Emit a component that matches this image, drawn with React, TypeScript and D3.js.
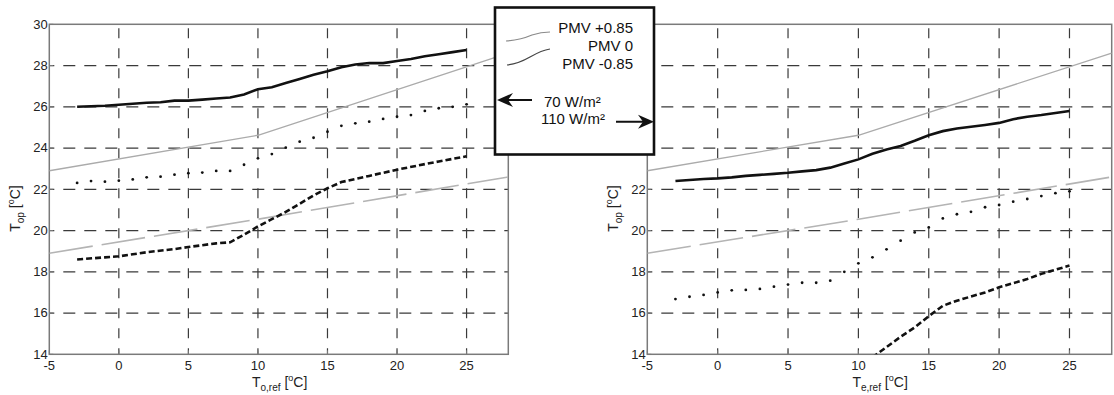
import React from "react";
import * as d3 from "d3";

// ---------- data ----------
const xTicks = [-5, 0, 5, 10, 15, 20, 25];
const yTicks = [14, 16, 18, 20, 22, 24, 26, 28, 30];
const gridX = [0, 5, 10, 15, 20, 25];
const gridY = [16, 18, 20, 22, 24, 26, 28];

// comfort band (same on both panels)
const comfortX = [-5, 10, 28];
const pmvUpper = [22.9, 24.62, 28.6];
const pmvLower = [18.9, 20.55, 22.6];

// left panel: 70 W/m2
const leftSolid: [number, number][] = [
  [-3, 26.0], [-1, 26.05], [0, 26.1], [1, 26.15], [2, 26.2], [3, 26.22], [4, 26.3], [5, 26.3],
  [6, 26.35], [7, 26.4], [8, 26.45], [9, 26.6], [10, 26.85], [11, 26.95], [12, 27.15],
  [13, 27.35], [14, 27.55], [15, 27.72], [16, 27.92], [17, 28.05], [18, 28.12], [19, 28.12],
  [20, 28.22], [21, 28.32], [22, 28.45], [23, 28.55], [24, 28.65], [25, 28.75],
];
const leftDotted: [number, number][] = [
  [-3, 22.31], [-2, 22.4], [-1, 22.37], [0, 22.42], [1, 22.48], [2, 22.58], [3, 22.61], [4, 22.71],
  [5, 22.78], [6, 22.81], [7, 22.89], [8, 22.89], [9, 23.19], [10, 23.5], [11, 23.71],
  [12, 24.02], [13, 24.31], [14, 24.5], [15, 24.79], [16, 25.08], [17, 25.2], [18, 25.28],
  [19, 25.41], [20, 25.52], [21, 25.6], [22, 25.8], [23, 25.93], [24, 26.0], [25, 26.12],
];
const leftDashed: [number, number][] = [
  [-3, 18.6], [-1, 18.7], [0, 18.75], [2, 18.95], [4, 19.1], [5, 19.2], [7, 19.38], [8, 19.43],
  [9, 19.8], [10, 20.2], [11, 20.55], [12, 20.9], [13, 21.3], [14, 21.7], [15, 22.05],
  [16, 22.35], [18, 22.65], [20, 22.95], [22, 23.22], [23, 23.35], [25, 23.6],
];

// right panel: 110 W/m2
const rightSolid: [number, number][] = [
  [-3, 22.4], [-1, 22.5], [0, 22.53], [1, 22.58], [2, 22.65], [3, 22.7], [4, 22.75], [5, 22.8],
  [6, 22.87], [7, 22.93], [8, 23.05], [9, 23.25], [10, 23.45], [11, 23.72], [12, 23.93],
  [13, 24.1], [14, 24.35], [15, 24.62], [16, 24.82], [17, 24.95], [18, 25.03], [19, 25.12],
  [20, 25.22], [21, 25.4], [22, 25.52], [23, 25.6], [24, 25.7], [25, 25.8],
];
const rightDotted: [number, number][] = [
  [-3, 16.68], [-2, 16.79], [-1, 16.88], [0, 17.0], [1, 17.1], [2, 17.12], [3, 17.17], [4, 17.28],
  [5, 17.38], [6, 17.47], [7, 17.47], [8, 17.57], [9, 18.0], [10, 18.41], [11, 18.7],
  [12, 19.09], [13, 19.51], [14, 19.91], [15, 20.15], [16, 20.59], [17, 20.79], [18, 20.91],
  [19, 21.13], [20, 21.24], [21, 21.4], [22, 21.53], [23, 21.67], [24, 21.81], [25, 21.9],
];
const rightDashed: [number, number][] = [
  [11, 13.85], [12, 14.35], [13, 14.85], [14, 15.3], [15, 15.85], [16, 16.35], [17, 16.6],
  [18, 16.8], [19, 17.0], [20, 17.25], [21, 17.45], [22, 17.65], [23, 17.9], [24, 18.1], [25, 18.3],
];

const legendLabels = ["PMV +0.85", "PMV 0", "PMV -0.85"];
const loadLabels = ["70 W/m²", "110 W/m²"];

// ---------- layout ----------
const W = 1114;
const H = 395;
const FONT = "'Liberation Sans', Arial, Helvetica, sans-serif";
const y = d3.scaleLinear().domain([14, 30]).range([354.3, 24.3]);

type PanelProps = {
  id: string;
  x0: number;
  x1: number;
  solid: [number, number][];
  dotted: [number, number][];
  dashed: [number, number][];
  xSub: string;
};

function Panel({ id, x0, x1, solid, dotted, dashed, xSub }: PanelProps) {
  const x = d3.scaleLinear().domain([-5, 28]).range([x0, x1]);
  const line = d3
    .line<[number, number]>()
    .x((d) => x(d[0]))
    .y((d) => y(d[1]));
  const comfortU: [number, number][] = comfortX.map((c, i) => [c, pmvUpper[i]]);
  const comfortL: [number, number][] = comfortX.map((c, i) => [c, pmvLower[i]]);
  const top = y(30);
  const bot = y(14);
  const grid = "#3a3a3a";
  return (
    <g>
      <defs>
        <clipPath id={id}>
          <rect x={x0} y={top} width={x1 - x0} height={bot - top} />
        </clipPath>
      </defs>
      {/* grid */}
      {gridX.map((v) => (
        <line key={"gx" + v} x1={x(v)} x2={x(v)} y1={top} y2={bot} stroke={grid}
          strokeWidth={1.2} strokeDasharray="10,10" strokeDashoffset={-4} />
      ))}
      {gridY.map((v) => (
        <line key={"gy" + v} x1={x0} x2={x1} y1={y(v)} y2={y(v)} stroke={grid}
          strokeWidth={1.2} strokeDasharray="12,9" strokeDashoffset={-14} />
      ))}
      {/* box */}
      <rect x={x0} y={top} width={x1 - x0} height={bot - top} fill="none" stroke="#7a7a7a" strokeWidth={1.5} />
      {/* ticks */}
      {xTicks.map((v) => (
        <g key={"xt" + v}>
          <line x1={x(v)} x2={x(v)} y1={bot} y2={bot - 4} stroke="#7a7a7a" />
          <text x={x(v)} y={369.5} textAnchor="middle" fontSize={13} fontFamily={FONT} fill="#222">
            {v}
          </text>
        </g>
      ))}
      {yTicks.map((v) => (
        <g key={"yt" + v}>
          <line x1={x0} x2={x0 + 4} y1={y(v)} y2={y(v)} stroke="#7a7a7a" />
          <text x={x0 - 1.5} y={y(v) + 4.3} textAnchor="end" fontSize={13} fontFamily={FONT} fill="#222">
            {v}
          </text>
        </g>
      ))}
      <g clipPath={`url(#${id})`}>
        <path d={line(comfortU) || ""} fill="none" stroke="#ababab" strokeWidth={1.3} />
        <path d={line(comfortL) || ""} fill="none" stroke="#b4b4b4" strokeWidth={1.6} strokeDasharray="44,9" />
        <path d={line(solid) || ""} fill="none" stroke="#111" strokeWidth={2.6} />
        <path d={line(dashed) || ""} fill="none" stroke="#111" strokeWidth={2.6} strokeDasharray="6,3" />
        {dotted.map((d, i) => (
          <circle key={"dt" + i} cx={x(d[0])} cy={y(d[1])} r={1.4} fill="#111" />
        ))}
      </g>
      {/* axis labels */}
      <text x={x(10) - 6} y={387} fontSize={14} fontFamily={FONT} fill="#222">
        T<tspan fontSize={10} dy={4}>{xSub}</tspan>
        <tspan dy={-4}> [</tspan>
        <tspan fontSize={9} dy={-6}>o</tspan>
        <tspan dy={6}>C]</tspan>
      </text>
      <text transform={`translate(${x0 - 29.5},${y(21.2) + 26}) rotate(-90)`} fontSize={14} fontFamily={FONT} fill="#222">
        T<tspan fontSize={10} dy={4}>op</tspan>
        <tspan dy={-4}> [</tspan>
        <tspan fontSize={9} dy={-6}>o</tspan>
        <tspan dy={6}>C]</tspan>
      </text>
    </g>
  );
}

export default function App() {
  const lx0 = 495;
  const lx1 = 654;
  const ly0 = 7.5;
  const ly1 = 154.5;
  const textX = 633;
  return (
    <svg width={W} height={H} style={{ position: "absolute", left: 0, top: 0, background: "#fff" }}>
      <rect width={W} height={H} fill="#fff" />
      <Panel id="clipL" x0={49.3} x1={508.3} solid={leftSolid} dotted={leftDotted} dashed={leftDashed} xSub="o,ref" />
      <Panel id="clipR" x0={647.3} x1={1111.7} solid={rightSolid} dotted={rightDotted} dashed={rightDashed} xSub="e,ref" />
      {/* legend box */}
      <rect x={lx0} y={ly0} width={lx1 - lx0} height={ly1 - ly0} fill="#fff" stroke="#111" strokeWidth={2.6} />
      <path d="M506,41 C518,40 525,38 532,35 C538,33 544,32 550,32" fill="none" stroke="#8a8a8a" strokeWidth={1.2} />
      <path d="M507,65 C517,64 523,61 530,57 C537,53 543,50 550,49" fill="none" stroke="#444" strokeWidth={1.2} />
      {legendLabels.map((t, i) => (
        <text key={t} x={textX} y={33 + i * 18} textAnchor="end" fontSize={15} fontFamily={FONT} fill="#111">
          {t}
        </text>
      ))}
      <text x={544} y={107} fontSize={15} fontFamily={FONT} fill="#111">{loadLabels[0]}</text>
      <text x={541} y={124} fontSize={15} fontFamily={FONT} fill="#111">{loadLabels[1]}</text>
      {/* arrows */}
      <line x1={532} x2={500} y1={100} y2={100} stroke="#111" strokeWidth={2} />
      <path d="M497,100 L513,93 L508,100 L513,107 Z" fill="#111" />
      <line x1={616} x2={650} y1={121.7} y2={121.7} stroke="#111" strokeWidth={2} />
      <path d="M654,121.7 L638,114.7 L643,121.7 L638,128.7 Z" fill="#111" />
    </svg>
  );
}
